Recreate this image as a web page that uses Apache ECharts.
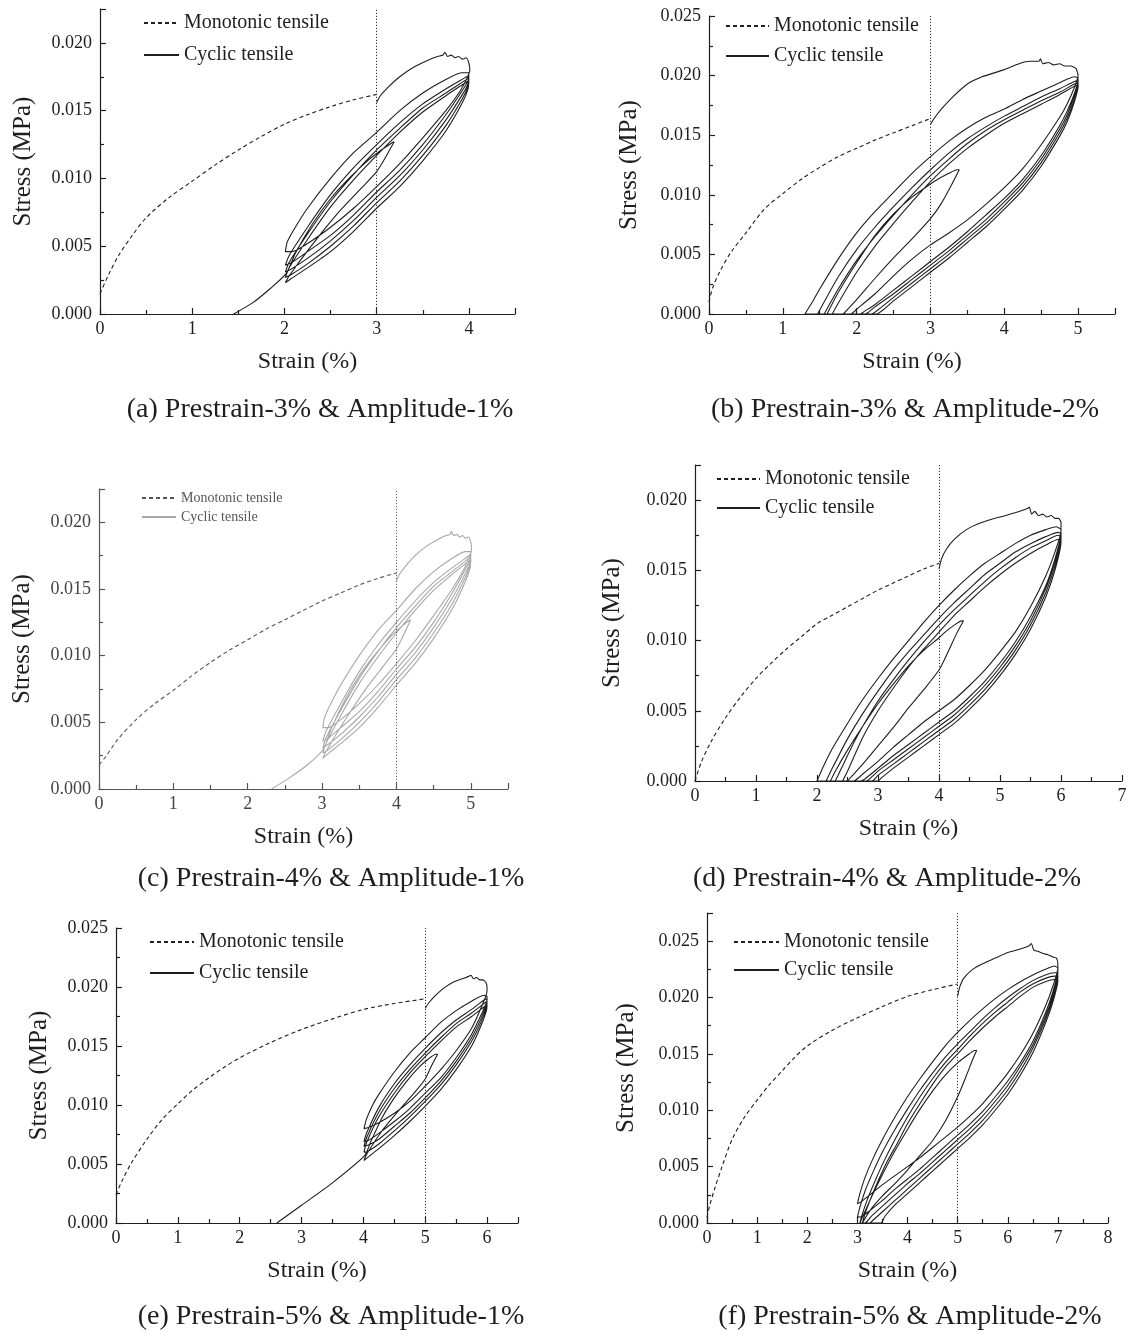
<!DOCTYPE html>
<html>
<head>
<meta charset="utf-8">
<title>Monotonic vs cyclic tensile stress-strain curves</title>
<script src="https://cdn.jsdelivr.net/npm/echarts@6/dist/echarts.min.js"></script>
<style>
  html, body { margin: 0; padding: 0; background: #fff; }
  #chart { width: 1131px; height: 1335px; }
</style>
</head>
<body>
<div id="chart"></div>
<script>
// ---------- panel descriptors ----------
const captions = [
  '(a) Prestrain-3% & Amplitude-1%',
  '(b) Prestrain-3% & Amplitude-2%',
  '(c) Prestrain-4% & Amplitude-1%',
  '(d) Prestrain-4% & Amplitude-2%',
  '(e) Prestrain-5% & Amplitude-1%',
  '(f) Prestrain-5% & Amplitude-2%'
];
const prestrains = [3, 3, 4, 4, 5, 5];
const strainMax = [4.5, 5.5, 5.5, 7, 6.5, 8];
const stressMax = [0.0225, 0.025, 0.0225, 0.0225, 0.025, 0.0275];
const legendNames = ['Monotonic tensile', 'Cyclic tensile'];

// ---------- (a) prestrain 3 %, amplitude 1 % ----------
const monoA = [[0,0.0015],[0.1,0.0030],[0.2,0.0043],[0.35,0.0058],[0.5,0.0071],[0.75,0.0086],[1.0,0.0098],[1.25,0.0110],[1.5,0.0121],[1.75,0.0131],[2.0,0.0140],[2.25,0.0147],[2.5,0.0153],[2.75,0.0158],[3.0,0.0162]];
const cycA = [
  [3.00,0.0156],[3.04,0.0161],[3.12,0.0167],[3.25,0.0175],[3.40,0.0182],[3.55,0.0187],[3.66,0.0190],[3.72,0.0191],[3.74,0.0193],[3.77,0.0190],[3.81,0.0191],[3.85,0.0189],[3.89,0.0190],[3.93,0.0188],[3.97,0.0189],[4.00,0.0185],[4.01,0.0180],
  [3.98,0.0174],[3.90,0.0164],[3.75,0.0150],[3.50,0.0130],[3.25,0.0111],[3.00,0.0094],[2.75,0.0078],[2.50,0.0064],[2.25,0.0052],[2.08,0.0046],[2.01,0.0046],
  [2.03,0.0053],[2.10,0.0062],[2.25,0.0078],[2.50,0.0100],[2.75,0.0119],[3.00,0.0134],[3.25,0.0150],[3.50,0.0163],[3.75,0.0173],[3.92,0.0178],[4.00,0.0178],
  [3.99,0.0172],[3.92,0.0164],[3.75,0.0147],[3.50,0.0125],[3.25,0.0106],[3.00,0.0090],[2.75,0.0073],[2.50,0.0058],[2.25,0.0046],[2.08,0.0038],[2.01,0.0036],
  [2.05,0.0043],[2.25,0.0064],[2.50,0.0088],[2.75,0.0108],[3.00,0.0125],[3.25,0.0141],[3.50,0.0155],[3.75,0.0166],[3.95,0.0174],[4.00,0.0176],
  [3.99,0.0170],[3.93,0.0162],[3.75,0.0143],[3.50,0.0121],[3.25,0.0102],[3.00,0.0086],[2.75,0.0069],[2.50,0.0054],[2.25,0.0041],[2.07,0.0033],[2.01,0.0031],
  [2.05,0.0038],[2.25,0.0059],[2.50,0.0083],[2.75,0.0103],[3.00,0.0121],[3.25,0.0137],[3.50,0.0152],[3.75,0.0163],[3.95,0.0172],[4.00,0.0174],
  [3.99,0.0168],[3.93,0.0159],[3.75,0.0139],[3.50,0.0117],[3.25,0.0098],[3.00,0.0082],[2.75,0.0065],[2.50,0.0050],[2.25,0.0037],[2.07,0.0029],[2.01,0.0027],
  [2.05,0.0034],[2.25,0.0055],[2.50,0.0079],[2.75,0.0099],[3.00,0.0117],[3.25,0.0134],[3.50,0.0149],[3.75,0.0161],[3.95,0.0170],[4.00,0.0172],
  [3.99,0.0166],[3.93,0.0156],[3.75,0.0135],[3.50,0.0113],[3.25,0.0094],[3.00,0.0078],[2.75,0.0061],[2.50,0.0046],[2.25,0.0034],[2.07,0.0026],[2.01,0.0023],
  [2.05,0.0028],[2.30,0.0051],[2.60,0.0076],[2.85,0.0094],[3.00,0.0105],[3.10,0.0116],[3.19,0.0127],
  [3.16,0.0126],[3.05,0.0121],[2.90,0.0113],[2.70,0.0100],[2.50,0.0085],[2.30,0.0066],[2.12,0.0045],[2.02,0.0030],
  [1.85,0.0019],[1.65,0.0008],[1.45,0.0000]
];

// ---------- (b) prestrain 3 %, amplitude 2 % ----------
const monoB = [[0,0.0010],[0.05,0.0022],[0.15,0.0036],[0.3,0.0052],[0.5,0.0068],[0.75,0.0088],[1.0,0.0101],[1.25,0.0113],[1.5,0.0123],[1.75,0.0132],[2.0,0.0139],[2.25,0.0146],[2.5,0.0152],[2.75,0.0158],[3.0,0.0164]];
const cycB = [
  [3.00,0.0159],[3.05,0.0164],[3.15,0.0172],[3.30,0.0182],[3.50,0.0193],[3.70,0.0199],[4.00,0.0205],[4.20,0.0210],[4.35,0.0212],[4.47,0.0212],[4.49,0.0214],[4.52,0.0210],[4.60,0.0211],[4.67,0.0209],[4.75,0.0210],[4.82,0.0208],[4.90,0.0208],[4.97,0.0206],[5.00,0.0200],
  [4.95,0.0190],[4.85,0.0176],[4.75,0.0165],[4.50,0.0142],[4.25,0.0122],[4.00,0.0106],[3.75,0.0092],[3.50,0.0079],[3.25,0.0068],[3.00,0.0058],[2.75,0.0046],[2.50,0.0032],[2.25,0.0017],[2.00,0.0004],[1.92,0.0000],
  [1.30,0.0000],[1.40,0.0010],[1.50,0.0021],[1.75,0.0046],[2.00,0.0068],[2.25,0.0086],[2.50,0.0102],[2.75,0.0118],[3.00,0.0132],[3.25,0.0145],[3.50,0.0156],[3.75,0.0165],[4.00,0.0172],[4.25,0.0180],[4.50,0.0187],[4.75,0.0194],[4.95,0.0199],[5.00,0.0198],
  [5.00,0.0197],[4.95,0.0185],[4.85,0.0170],[4.75,0.0158],[4.50,0.0133],[4.25,0.0113],[4.00,0.0097],[3.75,0.0083],[3.50,0.0069],[3.25,0.0056],[3.00,0.0044],[2.75,0.0032],[2.50,0.0020],[2.25,0.0008],[2.10,0.0002],[2.05,0.0000],
  [1.47,0.0000],[1.55,0.0009],[1.75,0.0031],[2.00,0.0054],[2.25,0.0073],[2.50,0.0090],[2.75,0.0106],[3.00,0.0121],[3.25,0.0135],[3.50,0.0147],[3.75,0.0157],[4.00,0.0166],[4.25,0.0174],[4.50,0.0182],[4.75,0.0189],[4.95,0.0195],[5.00,0.0196],
  [5.00,0.0195],[4.95,0.0183],[4.85,0.0167],[4.75,0.0155],[4.50,0.0130],[4.25,0.0110],[4.00,0.0094],[3.75,0.0079],[3.50,0.0066],[3.25,0.0053],[3.00,0.0041],[2.75,0.0029],[2.50,0.0017],[2.25,0.0006],[2.15,0.0001],[2.12,0.0000],
  [1.56,0.0000],[1.65,0.0010],[1.75,0.0021],[2.00,0.0045],[2.25,0.0065],[2.50,0.0083],[2.75,0.0100],[3.00,0.0116],[3.25,0.0130],[3.50,0.0143],[3.75,0.0154],[4.00,0.0163],[4.25,0.0171],[4.50,0.0179],[4.75,0.0186],[4.95,0.0193],[5.00,0.0194],
  [5.00,0.0193],[4.95,0.0180],[4.85,0.0164],[4.75,0.0152],[4.50,0.0127],[4.25,0.0107],[4.00,0.0091],[3.75,0.0076],[3.50,0.0063],[3.25,0.0050],[3.00,0.0038],[2.75,0.0026],[2.50,0.0014],[2.30,0.0004],[2.20,0.0000],
  [1.67,0.0000],[1.75,0.0009],[2.00,0.0035],[2.25,0.0057],[2.50,0.0076],[2.75,0.0094],[3.00,0.0111],[3.25,0.0126],[3.50,0.0139],[3.75,0.0150],[4.00,0.0160],[4.25,0.0168],[4.50,0.0176],[4.75,0.0184],[4.95,0.0191],[5.00,0.0192],
  [5.00,0.0191],[4.95,0.0178],[4.85,0.0161],[4.75,0.0149],[4.50,0.0124],[4.25,0.0104],[4.00,0.0088],[3.75,0.0073],[3.50,0.0060],[3.25,0.0047],[3.00,0.0035],[2.75,0.0023],[2.50,0.0011],[2.35,0.0003],[2.27,0.0000],
  [1.82,0.0000],[2.00,0.0012],[2.25,0.0030],[2.50,0.0047],[2.75,0.0063],[3.00,0.0080],[3.15,0.0093],[3.30,0.0110],[3.39,0.0121],
  [3.36,0.0121],[3.25,0.0118],[3.10,0.0113],[3.00,0.0109],[2.75,0.0098],[2.50,0.0084],[2.25,0.0066],[2.00,0.0043],[1.75,0.0018],[1.60,0.0000]
];

// ---------- (c) prestrain 4 %, amplitude 1 % ----------
const monoC = [[0,0.0018],[0.1,0.0025],[0.25,0.0037],[0.5,0.0052],[0.75,0.0064],[1.0,0.0074],[1.25,0.0085],[1.5,0.0095],[1.75,0.0104],[2.0,0.0112],[2.25,0.0120],[2.5,0.0127],[2.75,0.0134],[3.0,0.0141],[3.25,0.0147],[3.5,0.0153],[3.75,0.0158],[4.0,0.0162]];
const cycC = [
  [4.00,0.0156],[4.04,0.0161],[4.12,0.0167],[4.25,0.0175],[4.40,0.0182],[4.55,0.0187],[4.66,0.0190],[4.72,0.0191],[4.74,0.0193],[4.77,0.0190],[4.81,0.0191],[4.85,0.0189],[4.89,0.0190],[4.93,0.0188],[4.97,0.0189],[5.00,0.0185],[5.01,0.0180],
  [4.98,0.0174],[4.90,0.0164],[4.75,0.0150],[4.50,0.0130],[4.25,0.0111],[4.00,0.0094],[3.75,0.0078],[3.50,0.0064],[3.25,0.0052],[3.08,0.0046],[3.01,0.0046],
  [3.03,0.0053],[3.10,0.0062],[3.25,0.0078],[3.50,0.0100],[3.75,0.0119],[4.00,0.0134],[4.25,0.0150],[4.50,0.0163],[4.75,0.0173],[4.92,0.0178],[5.00,0.0178],
  [4.99,0.0172],[4.92,0.0164],[4.75,0.0147],[4.50,0.0125],[4.25,0.0106],[4.00,0.0090],[3.75,0.0073],[3.50,0.0058],[3.25,0.0046],[3.08,0.0038],[3.01,0.0036],
  [3.05,0.0043],[3.25,0.0064],[3.50,0.0088],[3.75,0.0108],[4.00,0.0125],[4.25,0.0141],[4.50,0.0155],[4.75,0.0166],[4.95,0.0174],[5.00,0.0176],
  [4.99,0.0170],[4.93,0.0162],[4.75,0.0143],[4.50,0.0121],[4.25,0.0102],[4.00,0.0086],[3.75,0.0069],[3.50,0.0054],[3.25,0.0041],[3.07,0.0033],[3.01,0.0031],
  [3.05,0.0038],[3.25,0.0059],[3.50,0.0083],[3.75,0.0103],[4.00,0.0121],[4.25,0.0137],[4.50,0.0152],[4.75,0.0163],[4.95,0.0172],[5.00,0.0174],
  [4.99,0.0168],[4.93,0.0159],[4.75,0.0139],[4.50,0.0117],[4.25,0.0098],[4.00,0.0082],[3.75,0.0065],[3.50,0.0050],[3.25,0.0037],[3.07,0.0029],[3.01,0.0027],
  [3.05,0.0034],[3.25,0.0055],[3.50,0.0079],[3.75,0.0099],[4.00,0.0117],[4.25,0.0134],[4.50,0.0149],[4.75,0.0161],[4.95,0.0170],[5.00,0.0172],
  [4.99,0.0166],[4.93,0.0156],[4.75,0.0135],[4.50,0.0113],[4.25,0.0094],[4.00,0.0078],[3.75,0.0061],[3.50,0.0046],[3.25,0.0034],[3.07,0.0026],[3.01,0.0023],
  [3.05,0.0028],[3.30,0.0051],[3.60,0.0076],[3.85,0.0094],[4.00,0.0105],[4.10,0.0116],[4.19,0.0127],
  [4.16,0.0126],[4.05,0.0121],[3.90,0.0113],[3.70,0.0100],[3.50,0.0085],[3.30,0.0066],[3.12,0.0045],[3.02,0.0030],
  [2.80,0.0018],[2.55,0.0008],[2.32,0.0000]
];

// ---------- (d) prestrain 4 %, amplitude 2 % ----------
const monoD = [[0,0.0000],[0.1,0.0013],[0.25,0.0027],[0.5,0.0045],[0.75,0.0060],[1.0,0.0073],[1.25,0.0084],[1.5,0.0094],[1.75,0.0103],[2.0,0.0112],[2.25,0.0118],[2.5,0.0124],[2.75,0.0130],[3.0,0.0136],[3.25,0.0141],[3.5,0.0146],[3.75,0.0151],[4.0,0.0155]];
const cycD = [
  [4.00,0.0151],[4.04,0.0158],[4.12,0.0165],[4.25,0.0172],[4.45,0.0179],[4.70,0.0184],[5.00,0.0188],[5.25,0.0191],[5.45,0.0194],[5.48,0.0195],[5.52,0.0190],[5.57,0.0192],[5.63,0.0189],[5.70,0.0190],[5.77,0.0188],[5.84,0.0189],[5.90,0.0187],[5.96,0.0187],[6.00,0.0184],
  [6.00,0.0178],[5.90,0.0163],[5.75,0.0146],[5.50,0.0124],[5.25,0.0106],[5.00,0.0092],[4.75,0.0079],[4.50,0.0068],[4.25,0.0058],[4.00,0.0050],[3.75,0.0042],[3.50,0.0033],[3.25,0.0024],[3.00,0.0014],[2.75,0.0005],[2.60,0.0000],
  [2.00,0.0000],[2.10,0.0010],[2.25,0.0023],[2.50,0.0041],[2.75,0.0058],[3.00,0.0073],[3.25,0.0087],[3.50,0.0100],[3.75,0.0113],[4.00,0.0125],[4.25,0.0136],[4.50,0.0146],[4.75,0.0155],[5.00,0.0162],[5.25,0.0169],[5.50,0.0175],[5.75,0.0179],[5.92,0.0181],[6.00,0.0179],
  [6.00,0.0176],[5.90,0.0158],[5.75,0.0139],[5.50,0.0117],[5.25,0.0099],[5.00,0.0084],[4.75,0.0071],[4.50,0.0060],[4.25,0.0050],[4.00,0.0042],[3.75,0.0034],[3.50,0.0026],[3.25,0.0018],[3.00,0.0009],[2.80,0.0002],[2.72,0.0000],
  [2.15,0.0000],[2.25,0.0009],[2.50,0.0030],[2.75,0.0048],[3.00,0.0064],[3.25,0.0079],[3.50,0.0092],[3.75,0.0104],[4.00,0.0116],[4.25,0.0127],[4.50,0.0137],[4.75,0.0147],[5.00,0.0155],[5.25,0.0163],[5.50,0.0169],[5.75,0.0174],[5.95,0.0177],[6.00,0.0176],
  [6.00,0.0174],[5.90,0.0156],[5.75,0.0137],[5.50,0.0114],[5.25,0.0096],[5.00,0.0081],[4.75,0.0068],[4.50,0.0057],[4.25,0.0047],[4.00,0.0039],[3.75,0.0031],[3.50,0.0023],[3.25,0.0015],[3.00,0.0007],[2.85,0.0001],[2.80,0.0000],
  [2.30,0.0000],[2.40,0.0009],[2.60,0.0027],[2.75,0.0039],[3.00,0.0057],[3.25,0.0072],[3.50,0.0086],[3.75,0.0099],[4.00,0.0111],[4.25,0.0122],[4.50,0.0132],[4.75,0.0142],[5.00,0.0151],[5.25,0.0159],[5.50,0.0166],[5.75,0.0171],[5.95,0.0175],[6.00,0.0174],
  [6.00,0.0172],[5.90,0.0153],[5.75,0.0134],[5.50,0.0111],[5.25,0.0093],[5.00,0.0078],[4.75,0.0065],[4.50,0.0054],[4.25,0.0044],[4.00,0.0036],[3.75,0.0028],[3.50,0.0020],[3.25,0.0012],[3.00,0.0004],[2.90,0.0000],
  [2.42,0.0000],[2.50,0.0007],[2.75,0.0031],[3.00,0.0050],[3.25,0.0066],[3.50,0.0081],[3.75,0.0094],[4.00,0.0106],[4.25,0.0118],[4.50,0.0128],[4.75,0.0138],[5.00,0.0147],[5.25,0.0155],[5.50,0.0162],[5.75,0.0168],[5.95,0.0172],[6.00,0.0172],
  [6.00,0.0170],[5.90,0.0150],[5.75,0.0131],[5.50,0.0108],[5.25,0.0090],[5.00,0.0075],[4.75,0.0062],[4.50,0.0051],[4.25,0.0041],[4.00,0.0033],[3.75,0.0025],[3.50,0.0017],[3.25,0.0009],[3.05,0.0002],[3.00,0.0000],
  [2.50,0.0000],[2.75,0.0012],[3.00,0.0025],[3.25,0.0038],[3.50,0.0052],[3.75,0.0065],[4.00,0.0079],[4.15,0.0092],[4.30,0.0106],[4.40,0.0114],
  [4.37,0.0114],[4.25,0.0111],[4.10,0.0106],[4.00,0.0102],[3.75,0.0093],[3.50,0.0082],[3.25,0.0069],[3.00,0.0055],[2.75,0.0039],[2.50,0.0022],[2.30,0.0007],[2.22,0.0000]
];

// ---------- (e) prestrain 5 %, amplitude 1 % ----------
const monoE = [[0,0.0024],[0.1,0.0036],[0.25,0.0051],[0.5,0.0071],[0.75,0.0088],[1.0,0.0101],[1.25,0.0113],[1.5,0.0123],[1.75,0.0132],[2.0,0.0140],[2.5,0.0153],[3.0,0.0164],[3.5,0.0173],[4.0,0.0181],[4.5,0.0186],[5.0,0.0190]];
const cycE = [
  [5.00,0.0182],[5.05,0.0186],[5.15,0.0192],[5.30,0.0199],[5.45,0.0204],[5.60,0.0207],[5.70,0.0209],[5.74,0.0210],[5.78,0.0207],[5.83,0.0208],[5.88,0.0206],[5.93,0.0206],[5.98,0.0204],[6.00,0.0199],
  [5.99,0.0194],[5.90,0.0182],[5.75,0.0165],[5.50,0.0146],[5.25,0.0130],[5.00,0.0116],[4.75,0.0103],[4.50,0.0093],[4.25,0.0085],[4.08,0.0081],[4.01,0.0080],
  [4.05,0.0088],[4.15,0.0100],[4.25,0.0109],[4.50,0.0128],[4.75,0.0144],[5.00,0.0157],[5.25,0.0170],[5.50,0.0180],[5.75,0.0188],[5.95,0.0193],[6.00,0.0192],
  [5.99,0.0187],[5.90,0.0176],[5.75,0.0160],[5.50,0.0140],[5.25,0.0123],[5.00,0.0110],[4.75,0.0097],[4.50,0.0086],[4.25,0.0076],[4.08,0.0070],[4.01,0.0069],
  [4.05,0.0076],[4.25,0.0098],[4.50,0.0118],[4.75,0.0134],[5.00,0.0148],[5.25,0.0161],[5.50,0.0172],[5.75,0.0181],[5.95,0.0189],[6.00,0.0190],
  [5.99,0.0185],[5.90,0.0173],[5.75,0.0157],[5.50,0.0137],[5.25,0.0120],[5.00,0.0106],[4.75,0.0093],[4.50,0.0082],[4.25,0.0071],[4.08,0.0066],[4.01,0.0065],
  [4.05,0.0072],[4.25,0.0094],[4.50,0.0114],[4.75,0.0130],[5.00,0.0144],[5.25,0.0157],[5.50,0.0169],[5.75,0.0178],[5.95,0.0186],[6.00,0.0188],
  [5.99,0.0183],[5.90,0.0170],[5.75,0.0154],[5.50,0.0134],[5.25,0.0117],[5.00,0.0103],[4.75,0.0090],[4.50,0.0078],[4.25,0.0067],[4.08,0.0061],[4.01,0.0060],
  [4.05,0.0068],[4.25,0.0090],[4.50,0.0110],[4.75,0.0127],[5.00,0.0141],[5.25,0.0154],[5.50,0.0166],[5.75,0.0175],[5.95,0.0183],[6.00,0.0185],
  [5.99,0.0180],[5.90,0.0167],[5.75,0.0150],[5.50,0.0130],[5.25,0.0113],[5.00,0.0099],[4.75,0.0086],[4.50,0.0074],[4.25,0.0063],[4.08,0.0056],[4.01,0.0053],
  [4.05,0.0058],[4.30,0.0078],[4.60,0.0097],[4.85,0.0112],[5.00,0.0122],[5.10,0.0133],[5.20,0.0143],
  [5.17,0.0143],[5.05,0.0139],[4.90,0.0132],[4.70,0.0120],[4.50,0.0106],[4.30,0.0089],[4.12,0.0069],[4.02,0.0057],
  [3.50,0.0034],[3.00,0.0015],[2.60,0.0000]
];

// ---------- (f) prestrain 5 %, amplitude 2 % ----------
const monoF = [[0,0.0005],[0.05,0.0015],[0.15,0.0030],[0.3,0.0050],[0.5,0.0074],[0.75,0.0094],[1.0,0.0109],[1.25,0.0123],[1.5,0.0135],[1.75,0.0147],[2.0,0.0157],[2.5,0.0171],[3.0,0.0182],[3.5,0.0192],[4.0,0.0201],[4.5,0.0207],[5.0,0.0212]];
const cycF = [
  [5.00,0.0201],[5.04,0.0209],[5.12,0.0217],[5.30,0.0225],[5.50,0.0230],[5.75,0.0235],[6.00,0.0240],[6.25,0.0243],[6.43,0.0246],[6.47,0.0248],[6.52,0.0242],[6.60,0.0241],[6.70,0.0239],[6.80,0.0238],[6.90,0.0236],[6.97,0.0235],[7.00,0.0230],
  [7.00,0.0226],[6.90,0.0210],[6.75,0.0192],[6.50,0.0168],[6.25,0.0149],[6.00,0.0133],[5.75,0.0119],[5.50,0.0106],[5.25,0.0095],[5.00,0.0085],[4.75,0.0076],[4.50,0.0067],[4.25,0.0058],[4.00,0.0050],[3.75,0.0042],[3.50,0.0034],[3.25,0.0025],[3.08,0.0019],[3.00,0.0017],
  [3.05,0.0026],[3.15,0.0040],[3.30,0.0056],[3.50,0.0074],[3.75,0.0094],[4.00,0.0112],[4.25,0.0128],[4.50,0.0143],[4.75,0.0157],[5.00,0.0169],[5.25,0.0180],[5.50,0.0190],[5.75,0.0199],[6.00,0.0207],[6.25,0.0214],[6.50,0.0220],[6.75,0.0225],[6.93,0.0228],[7.00,0.0226],
  [7.00,0.0224],[6.90,0.0205],[6.75,0.0186],[6.50,0.0161],[6.25,0.0142],[6.00,0.0126],[5.75,0.0112],[5.50,0.0099],[5.25,0.0088],[5.00,0.0078],[4.75,0.0068],[4.50,0.0058],[4.25,0.0048],[4.00,0.0039],[3.75,0.0030],[3.50,0.0020],[3.25,0.0011],[3.10,0.0006],[3.00,0.0005],
  [3.05,0.0014],[3.15,0.0028],[3.30,0.0044],[3.50,0.0063],[3.75,0.0083],[4.00,0.0101],[4.25,0.0118],[4.50,0.0133],[4.75,0.0147],[5.00,0.0159],[5.25,0.0170],[5.50,0.0181],[5.75,0.0191],[6.00,0.0200],[6.25,0.0208],[6.50,0.0215],[6.75,0.0220],[6.93,0.0222],[7.00,0.0222],
  [7.00,0.0221],[6.90,0.0202],[6.75,0.0183],[6.50,0.0158],[6.25,0.0139],[6.00,0.0122],[5.75,0.0108],[5.50,0.0095],[5.25,0.0084],[5.00,0.0074],[4.75,0.0064],[4.50,0.0054],[4.25,0.0044],[4.00,0.0035],[3.75,0.0025],[3.50,0.0015],[3.30,0.0007],[3.15,0.0000],
  [3.05,0.0000],[3.10,0.0008],[3.20,0.0021],[3.35,0.0037],[3.50,0.0052],[3.75,0.0074],[4.00,0.0094],[4.25,0.0112],[4.50,0.0128],[4.75,0.0142],[5.00,0.0154],[5.25,0.0166],[5.50,0.0177],[5.75,0.0187],[6.00,0.0196],[6.25,0.0205],[6.50,0.0212],[6.75,0.0217],[6.93,0.0219],[7.00,0.0219],
  [7.00,0.0218],[6.90,0.0199],[6.75,0.0180],[6.50,0.0155],[6.25,0.0135],[6.00,0.0118],[5.75,0.0104],[5.50,0.0091],[5.25,0.0080],[5.00,0.0070],[4.75,0.0060],[4.50,0.0050],[4.25,0.0040],[4.00,0.0030],[3.75,0.0020],[3.50,0.0010],[3.30,0.0002],[3.25,0.0000],
  [3.10,0.0000],[3.15,0.0008],[3.25,0.0020],[3.40,0.0036],[3.60,0.0055],[3.80,0.0071],[4.00,0.0088],[4.25,0.0106],[4.50,0.0123],[4.75,0.0138],[5.00,0.0150],[5.25,0.0162],[5.50,0.0173],[5.75,0.0183],[6.00,0.0192],[6.25,0.0201],[6.50,0.0209],[6.75,0.0214],[6.93,0.0216],[7.00,0.0216],
  [7.00,0.0215],[6.90,0.0196],[6.75,0.0177],[6.50,0.0151],[6.25,0.0131],[6.00,0.0114],[5.75,0.0100],[5.50,0.0087],[5.25,0.0076],[5.00,0.0066],[4.75,0.0056],[4.50,0.0046],[4.25,0.0036],[4.00,0.0026],[3.75,0.0016],[3.55,0.0006],[3.47,0.0000],
  [3.10,0.0000],[3.25,0.0011],[3.50,0.0024],[3.75,0.0035],[4.00,0.0047],[4.25,0.0060],[4.50,0.0073],[4.75,0.0090],[5.00,0.0112],[5.15,0.0128],[5.30,0.0145],[5.38,0.0153],
  [5.34,0.0153],[5.20,0.0149],[5.00,0.0142],[4.75,0.0131],[4.50,0.0117],[4.25,0.0101],[4.00,0.0083],[3.75,0.0064],[3.50,0.0043],[3.25,0.0020],[3.10,0.0005],[3.05,0.0000]
];

const monotonicSets = [monoA, monoB, monoC, monoD, monoE, monoF];
const cyclicSets = [cycA, cycB, cycC, cycD, cycE, cycF];

// ---------- page layout (pixels) ----------
const FONT = '"Liberation Serif", "Times New Roman", Times, serif';
const layout = [
  { grid: { left: 100, top: 9,   width: 415, height: 305 }, yGap: 64, legend: { left: 143, top: 13, itemWidth: 35, fontSize: 20, gap: 12 }, caption: [320, 410] },
  { grid: { left: 709, top: 16,  width: 406, height: 298 }, yGap: 67, legend: { left: 725, top: 16, itemWidth: 43, fontSize: 20, gap: 10 }, caption: [905, 410] },
  { grid: { left: 99,  top: 489, width: 409, height: 300 }, yGap: 64, legend: { left: 141, top: 491, itemWidth: 34, fontSize: 14, gap: 5 }, caption: [331, 879] },
  { grid: { left: 695, top: 465, width: 427, height: 316 }, yGap: 70, legend: { left: 716, top: 469, itemWidth: 43, fontSize: 20, gap: 9 }, caption: [887, 879] },
  { grid: { left: 116, top: 928, width: 402, height: 295 }, yGap: 64, legend: { left: 149, top: 932, itemWidth: 44, fontSize: 20, gap: 11 }, caption: [331, 1317] },
  { grid: { left: 707, top: 913, width: 401, height: 310 }, yGap: 68, legend: { left: 733, top: 932, itemWidth: 45, fontSize: 20, gap: 8 }, caption: [910, 1317] }
];

const INK = '#1e1e1e';
const NO_MARK = 'rgba(0,0,0,0)';
const grids = [], xAxes = [], yAxes = [], series = [], legends = [], texts = [];

layout.forEach((L, i) => {
  const faded = i === 2;              // panel (c) is printed in grey
  const axisInk = faded ? '#555' : INK;
  const labelInk = faded ? '#444' : INK;

  grids.push(Object.assign({ containLabel: false }, L.grid));

  xAxes.push({
    gridIndex: i, type: 'value', min: 0, max: strainMax[i], interval: 1,
    axisLine: { onZero: false, lineStyle: { color: axisInk, width: 1.2 } },
    axisTick: { inside: true, length: 6, lineStyle: { color: axisInk, width: 1.2 } },
    minorTick: { show: true, splitNumber: 2, length: 4, lineStyle: { color: axisInk, width: 1.2 } },
    splitLine: { show: false },
    axisLabel: {
      margin: 6, fontSize: 18, fontFamily: FONT, color: labelInk,
      formatter: v => (Math.abs(v - Math.round(v)) < 1e-9 ? String(Math.round(v)) : '')
    },
    name: 'Strain (%)', nameLocation: 'middle', nameGap: 36,
    nameTextStyle: { fontSize: 24, fontFamily: FONT, color: INK }
  });

  yAxes.push({
    gridIndex: i, type: 'value', min: 0, max: stressMax[i], interval: 0.005,
    axisLine: { onZero: false, lineStyle: { color: axisInk, width: 1.2 } },
    axisTick: { inside: true, length: 6, lineStyle: { color: axisInk, width: 1.2 } },
    minorTick: { show: true, splitNumber: 2, length: 4, lineStyle: { color: axisInk, width: 1.2 } },
    splitLine: { show: false },
    axisLabel: {
      margin: 8, fontSize: 18, fontFamily: FONT, color: labelInk,
      formatter: v => {
        const k = v / 0.005;
        return Math.abs(k - Math.round(k)) < 1e-6 ? v.toFixed(3) : '';
      }
    },
    name: 'Stress (MPa)', nameLocation: 'middle', nameGap: L.yGap,
    nameTextStyle: { fontSize: 25, fontFamily: FONT, color: INK }
  });

  series.push({
    name: legendNames[0], type: 'line', xAxisIndex: i, yAxisIndex: i,
    data: monotonicSets[i], symbol: 'none', smooth: 0.3, z: 3,
    itemStyle: { color: NO_MARK },
    lineStyle: { type: [4, 3], width: 1.1, color: faded ? '#555' : INK },
    markLine: {
      silent: true, symbol: ['none', 'none'], label: { show: false },
      lineStyle: { type: [1.2, 1.8], width: 1, color: faded ? '#666' : '#333' },
      data: [{ xAxis: prestrains[i] }]
    }
  });

  series.push({
    name: legendNames[1], type: 'line', xAxisIndex: i, yAxisIndex: i,
    data: cyclicSets[i], symbol: 'none', smooth: 0.2, z: 4,
    itemStyle: { color: NO_MARK },
    lineStyle: { width: 1.1, color: faded ? '#a8a8a8' : INK }
  });

  legends.push({
    left: L.legend.left, top: L.legend.top, orient: 'vertical',
    itemWidth: L.legend.itemWidth, itemHeight: 12, itemGap: L.legend.gap,
    selectedMode: false, padding: 0,
    itemStyle: { color: NO_MARK, borderColor: NO_MARK, borderWidth: 0 },
    textStyle: { fontSize: L.legend.fontSize, fontFamily: FONT, color: faded ? '#555' : INK },
    data: faded
      ? [{ name: legendNames[0], lineStyle: { color: '#555' } }, { name: legendNames[1], lineStyle: { color: '#a8a8a8' } }]
      : legendNames.slice()
  });

  texts.push({
    type: 'text', x: L.caption[0], y: L.caption[1], silent: true,
    style: {
      text: captions[i], fill: INK, fontSize: 28, fontFamily: FONT,
      align: 'center', verticalAlign: 'middle'
    }
  });
});

const chart = echarts.init(document.getElementById('chart'), null, { renderer: 'canvas' });
chart.setOption({
  animation: false,
  backgroundColor: '#ffffff',
  grid: grids,
  xAxis: xAxes,
  yAxis: yAxes,
  legend: legends,
  series: series,
  graphic: { elements: texts }
});
</script>
</body>
</html>
